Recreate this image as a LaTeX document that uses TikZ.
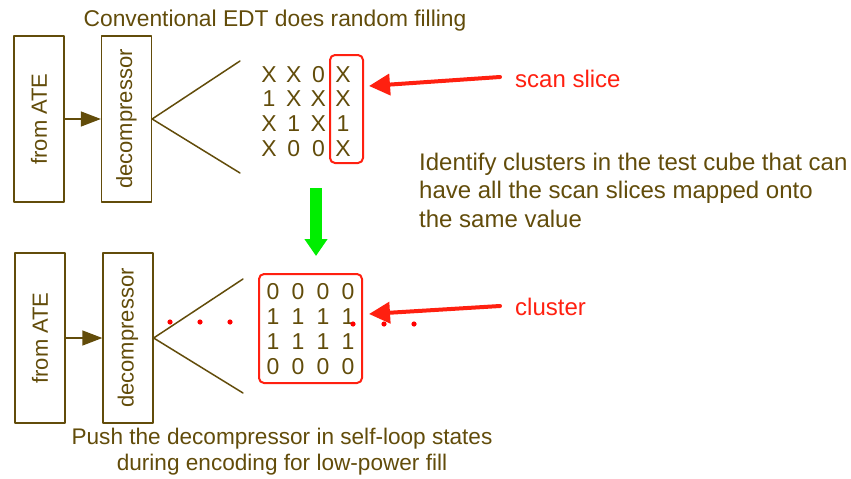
\documentclass[tikz,border=0pt]{standalone}
\usepackage{fontspec}
\setmainfont{Liberation Sans}
\usetikzlibrary{arrows.meta}
\definecolor{edtbrown}{RGB}{98,76,10}
\definecolor{edtred}{RGB}{255,32,16}
\definecolor{edtgreen}{RGB}{0,238,0}
\tikzset{
  unitbox/.style={draw=edtbrown,line width=1.3pt,minimum width=50pt,minimum height=166pt,inner sep=0pt,text=edtbrown,font=\fontsize{22}{26}\selectfont},
  bit/.style={anchor=base,inner sep=0pt,text=edtbrown,font=\fontsize{23}{26}\selectfont},
  redbox/.style={draw=edtred,line width=2pt,rounded corners=5pt,inner sep=0pt},
  redlbl/.style={anchor=base west,inner sep=0pt,text=edtred,font=\fontsize{24}{28}\selectfont},
  redarrow/.style={draw=edtred,line width=4pt,-{Triangle[length=21pt,width=21pt]}},
  fan/.style={draw=edtbrown,line width=1.5pt}
}
\begin{document}
\begin{tikzpicture}[x=1pt,y=-1pt,line cap=round,line join=round]
  \useasboundingbox (0,0) rectangle (851,479);
  \node[anchor=base,inner sep=0pt,text=edtbrown,font=\fontsize{22.8}{26}\selectfont] (title) at (275,26) {Conventional EDT does random filling};
  % conventional EDT
  \node[unitbox] (ateA) at (39,119) {\rotatebox{90}{from ATE}};
  \node[unitbox] (decA) at (126.5,119) {\rotatebox{90}{decompressor}};
  \draw[edtbrown,line width=1.3pt,-{Triangle[length=20pt,width=15pt]}] (ateA.east) -- (decA.west);
  \coordinate (fanA1) at (240,61);
  \coordinate (fanA2) at (240,173);
  \draw[fan] (fanA1) -- (decA.east) -- (fanA2);
  \foreach \row [count=\i] in {{X,X,0,X},{1,X,X,X},{X,1,X,1},{X,0,0,X}} {
    \foreach \b [count=\j] in \row {
      \node[bit] (t\i\j) at ({244.3+24.7*\j},{57.4+24.7*\i}) {\b};
    }
  }
  \node[redbox,minimum width=33pt,minimum height=108pt] (slice) at (346.5,109) {};
  \node[redlbl] (sliceLbl) at (515,87) {scan slice};
  \coordinate (sliceTail) at (500,77);
  \coordinate (sliceTip) at (369,86);
  \draw[redarrow] (sliceTail) -- (sliceTip);
  \node[anchor=north west,align=left,inner sep=0pt,text=edtbrown,font=\fontsize{24}{28.5}\selectfont] (idea) at (419,152.5)
    {Identify clusters in the test cube that can\\have all the scan slices mapped onto\\the same value};
  % green arrow
  \coordinate (gTop) at (316,188);
  \coordinate (gBot) at (316,256);
  \draw[edtgreen,line width=12pt,line cap=butt,-{Triangle[length=17pt,width=22pt]}] (gTop) -- (gBot);
  % low-power EDT
  \node[unitbox,minimum height=170pt] (ateB) at (40,338) {\rotatebox{90}{from ATE}};
  \node[unitbox,minimum height=170pt] (decB) at (128,338) {\rotatebox{90}{decompressor}};
  \draw[edtbrown,line width=1.3pt,-{Triangle[length=20pt,width=15pt]}] (ateB.east) -- (decB.west);
  \coordinate (fanB1) at (243,279);
  \coordinate (fanB2) at (243,393);
  \draw[fan] (fanB1) -- (decB.east) -- (fanB2);
  \foreach \row [count=\i] in {{0,0,0,0},{1,1,1,1},{1,1,1,1},{0,0,0,0}} {
    \foreach \b [count=\j] in \row {
      \node[bit] (c\i\j) at ({248+25*\j},{274+25*\i}) {\b};
    }
  }
  \node[redbox,minimum width=103pt,minimum height=109pt] (clust) at (310.5,328.5) {};
  \foreach \x in {170,200,230} \fill[red] (\x,322) circle (2.6pt);
  \foreach \x in {353,384,414} \fill[red] (\x,324) circle (2.6pt);
  \node[redlbl] (clustLbl) at (515,315) {cluster};
  \coordinate (clustTail) at (500,306);
  \coordinate (clustTip) at (369,314);
  \draw[redarrow] (clustTail) -- (clustTip);
  \node[anchor=north,align=center,inner sep=0pt,text=edtbrown,font=\fontsize{22.6}{26}\selectfont] (push) at (282,428)
    {Push the decompressor in self-loop states\\during encoding for low-power fill};
\end{tikzpicture}
\end{document}
